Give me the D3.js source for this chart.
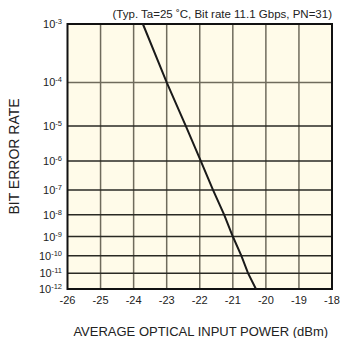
<!DOCTYPE html>
<html>
<head>
<meta charset="utf-8">
<script src="https://cdn.jsdelivr.net/npm/d3@7"></script>
<style>
  body { margin: 0; background: #fff; }
  svg text { font-family: "Liberation Sans", Arial, sans-serif; fill: #222; }
</style>
</head>
<body>
<div id="chart"></div>
<script>
// BER exponents (10^-n) and the power for each
const berExp = [3, 4, 5, 6, 7, 8, 9, 10, 11, 12];
const power = [-23.72, -23.0, -22.42, -21.97, -21.6, -21.26, -21.0, -20.74, -20.54, -20.3];
const xTicks = [-26, -25, -24, -23, -22, -21, -20, -19, -18];
const note = '(Typ. Ta=25 ˚C, Bit rate 11.1 Gbps, PN=31)';

const W = 341, H = 338;
const m = {top: 24, right: 9, bottom: 49, left: 67.5};

const svg = d3.select('#chart').append('svg')
  .attr('width', W)
  .attr('height', H);

const x = d3.scaleLinear()
  .domain([-26, -18])
  .range([m.left, W - m.right]);

// BER paper: roughly log(-log(BER)) spacing
const tf = n => Math.log10(n - 0.5);
const yLin = d3.scaleLinear()
  .domain([tf(3), tf(12)])
  .range([m.top, H - m.bottom]);
const y = n => yLin(tf(n));

const g = svg.append('g');

g.append('rect')
  .attr('x', x(-26)).attr('y', y(3))
  .attr('width', x(-18) - x(-26))
  .attr('height', y(12) - y(3))
  .style('fill', '#fffbe9');

// vertical grid
g.selectAll('.vgrid')
  .data(xTicks.slice(1, -1))
  .enter().append('line')
  .attr('class', 'vgrid')
  .attr('x1', d => x(d)).attr('x2', d => x(d))
  .attr('y1', y(3)).attr('y2', y(12))
  .style('stroke', '#6f6b5c')
  .style('stroke-width', 1.5);

// horizontal grid
g.selectAll('.hgrid')
  .data(berExp.slice(1, -1))
  .enter().append('line')
  .attr('class', 'hgrid')
  .attr('x1', x(-26)).attr('x2', x(-18))
  .attr('y1', d => y(d)).attr('y2', d => y(d))
  .style('stroke', (d, i) => i == 0 ? '#6f6b5c' : '#2a2a24')
  .style('stroke-width', 1.5);

g.append('rect')
  .attr('x', x(-26)).attr('y', y(3))
  .attr('width', x(-18) - x(-26))
  .attr('height', y(12) - y(3))
  .style('fill', 'none')
  .style('stroke', '#111')
  .style('stroke-width', 2);

// curve
const line = d3.line()
  .x(d => x(d[0]))
  .y(d => y(d[1]));

g.append('path')
  .datum(d3.zip(power, berExp))
  .attr('d', line)
  .style('fill', 'none')
  .style('stroke', '#1a1a1a')
  .style('stroke-width', 2);

// y tick labels
const yl = svg.selectAll('.ylab')
  .data(berExp)
  .enter().append('text')
  .attr('class', 'ylab')
  .attr('x', 62)
  .attr('y', d => y(d) + 4)
  .attr('text-anchor', 'end')
  .style('font-size', '11px');
yl.append('tspan').text('10');
yl.append('tspan')
  .attr('dy', -4)
  .style('font-size', '7.5px')
  .text(d => '-' + d);

// x tick labels
svg.selectAll('.xlab')
  .data(xTicks)
  .enter().append('text')
  .attr('class', 'xlab')
  .attr('x', d => x(d))
  .attr('y', y(12) + 15)
  .attr('text-anchor', 'middle')
  .style('font-size', '11px')
  .text(d => d);

svg.append('text')
  .attr('x', W - 9)
  .attr('y', 18)
  .attr('text-anchor', 'end')
  .style('font-size', '11.5px')
  .text(note);

svg.append('text')
  .attr('x', (x(-26) + x(-18)) / 2 + 1)
  .attr('y', 336)
  .attr('text-anchor', 'middle')
  .style('font-size', '13px')
  .text('AVERAGE OPTICAL INPUT POWER (dBm)');

svg.append('text')
  .attr('transform', 'translate(19,' + ((y(3) + y(12)) / 2) + ') rotate(-90)')
  .attr('text-anchor', 'middle')
  .style('font-size', '14px')
  .text('BIT ERROR RATE');
</script>
</body>
</html>
